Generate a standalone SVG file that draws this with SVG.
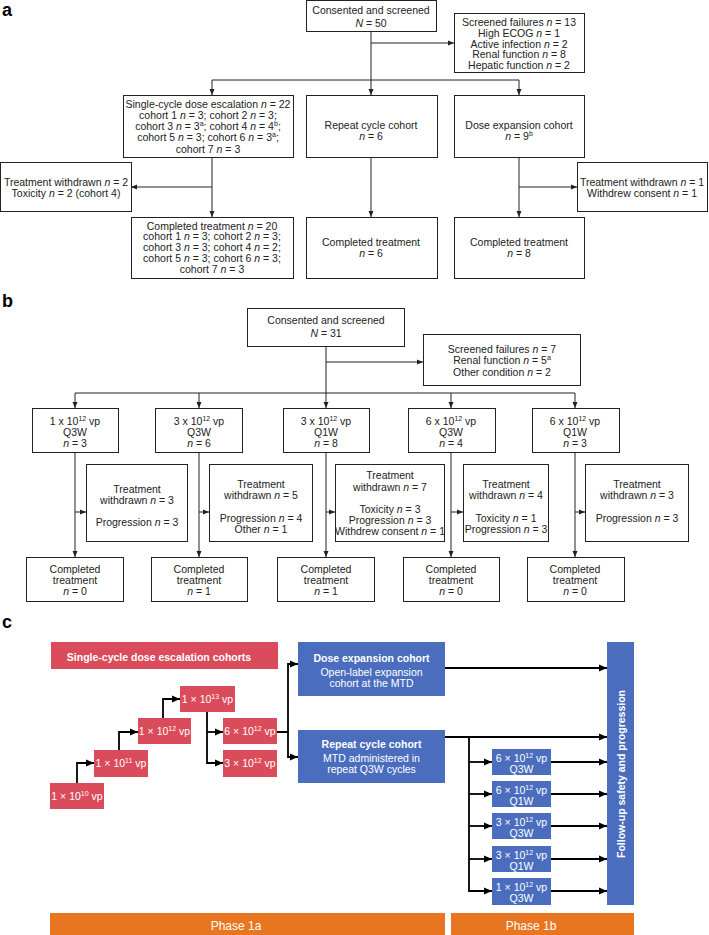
<svg xmlns="http://www.w3.org/2000/svg" width="709" height="935" viewBox="0 0 709 935">
<defs>
<style>
.bx{fill:#fff;stroke:#222;stroke-width:1}
.t{font-family:"Liberation Sans",Arial,sans-serif;font-size:10.5px;fill:#222;text-anchor:middle}
.i{font-style:italic}
.lbl{font-family:"Liberation Sans",Arial,sans-serif;font-size:18px;font-weight:bold;fill:#000}
.ln{fill:none;stroke:#222;stroke-width:1}
.lc{fill:none;stroke:#000;stroke-width:1.8}
.red{fill:#DA4B5B}
.blue{fill:#4A6DBE}
.org{fill:#E8751F}
.w{font-family:"Liberation Sans",Arial,sans-serif;font-size:10.5px;fill:#fff;text-anchor:middle}
.wb{font-weight:bold}
.sup{font-size:7px}
</style>
<marker id="ar" markerUnits="userSpaceOnUse" markerWidth="6" markerHeight="6" refX="6" refY="3" orient="auto"><path d="M0,0.5 L6,3 L0,5.5 z" fill="#222"/></marker>
<marker id="arc" markerUnits="userSpaceOnUse" markerWidth="8" markerHeight="8" refX="8" refY="4" orient="auto"><path d="M0,0.5 L8,4 L0,7.5 z" fill="#000"/></marker>
</defs>
<rect width="709" height="935" fill="#fff"/>

<text class="lbl" x="2" y="16">a</text>
<text class="lbl" x="2" y="307">b</text>
<text class="lbl" x="2" y="628">c</text>

<g id="connectors">
<!-- panel a -->
<path class="ln" d="M371,32 V95" marker-end="url(#ar)"/>
<path class="ln" d="M371,43 H454" marker-end="url(#ar)"/>
<path class="ln" d="M371,80 H212 V95" marker-end="url(#ar)"/>
<path class="ln" d="M371,80 H519 V95" marker-end="url(#ar)"/>
<path class="ln" d="M212,157 V217" marker-end="url(#ar)"/>
<path class="ln" d="M212,187 H131" marker-end="url(#ar)"/>
<path class="ln" d="M371,157 V217" marker-end="url(#ar)"/>
<path class="ln" d="M519,157 V217" marker-end="url(#ar)"/>
<path class="ln" d="M519,187 H577" marker-end="url(#ar)"/>
<!-- panel b -->
<path class="ln" d="M326,346 V408" marker-end="url(#ar)"/>
<path class="ln" d="M326,362 H423" marker-end="url(#ar)"/>
<path class="ln" d="M326,393 H75 V408" marker-end="url(#ar)"/>
<path class="ln" d="M326,393 H575 V408" marker-end="url(#ar)"/>
<path class="ln" d="M199,393 V408" marker-end="url(#ar)"/>
<path class="ln" d="M451,393 V408" marker-end="url(#ar)"/>
<path class="ln" d="M75,452 V557" marker-end="url(#ar)"/>
<path class="ln" d="M75,512 H86" marker-end="url(#ar)"/>
<path class="ln" d="M199,452 V557" marker-end="url(#ar)"/>
<path class="ln" d="M199,512 H209" marker-end="url(#ar)"/>
<path class="ln" d="M326,452 V557" marker-end="url(#ar)"/>
<path class="ln" d="M326,512 H335" marker-end="url(#ar)"/>
<path class="ln" d="M451,452 V557" marker-end="url(#ar)"/>
<path class="ln" d="M451,512 H463" marker-end="url(#ar)"/>
<path class="ln" d="M575,452 V557" marker-end="url(#ar)"/>
<path class="ln" d="M575,512 H585" marker-end="url(#ar)"/>
<!-- panel c -->
<path class="lc" d="M77,783 V763 H94" marker-end="url(#arc)"/>
<path class="lc" d="M119,750 V732 H138" marker-end="url(#arc)"/>
<path class="lc" d="M163,718 V699 H180" marker-end="url(#arc)"/>
<path class="lc" d="M207,712 V763 H223" marker-end="url(#arc)"/>
<path class="lc" d="M207,732 H223" marker-end="url(#arc)"/>
<path class="lc" d="M277,732 H288 V664 H298" marker-end="url(#arc)"/>
<path class="lc" d="M288,732 V757 H298" marker-end="url(#arc)"/>
<path class="lc" d="M445,668 H607" marker-end="url(#arc)"/>
<path class="lc" d="M445,737 H607" marker-end="url(#arc)"/>
<path class="lc" d="M469,737 V891 H492" marker-end="url(#arc)"/>
<path class="lc" d="M469,762 H492" marker-end="url(#arc)"/>
<path class="lc" d="M469,794 H492" marker-end="url(#arc)"/>
<path class="lc" d="M469,826 H492" marker-end="url(#arc)"/>
<path class="lc" d="M469,859 H492" marker-end="url(#arc)"/>
<path class="lc" d="M551,762 H607" marker-end="url(#arc)"/>
<path class="lc" d="M551,794 H607" marker-end="url(#arc)"/>
<path class="lc" d="M551,826 H607" marker-end="url(#arc)"/>
<path class="lc" d="M551,859 H607" marker-end="url(#arc)"/>
<path class="lc" d="M551,891 H607" marker-end="url(#arc)"/>
</g>

<!-- panel a nodes -->
<g id="a-consented">
<rect class="bx" x="306.5" y="0.5" width="130" height="31"/>
<text class="t" x="371" y="13.7">Consented and screened</text>
<text class="t" x="371" y="26.5"><tspan class="i">N</tspan> = 50</text>
</g>
<g id="a-failures">
<rect class="bx" x="454.5" y="13.5" width="130" height="59"/>
<text class="t" x="519" y="25.7">Screened failures <tspan class="i">n</tspan> = 13</text>
<text class="t" x="519" y="36.7">High ECOG <tspan class="i">n</tspan> = 1</text>
<text class="t" x="519" y="47.5">Active infection <tspan class="i">n</tspan> = 2</text>
<text class="t" x="519" y="58.3">Renal function <tspan class="i">n</tspan> = 8</text>
<text class="t" x="519" y="69.2">Hepatic function <tspan class="i">n</tspan> = 2</text>
</g>
<g id="a-single">
<rect class="bx" x="123.5" y="95.5" width="170" height="62"/>
<text class="t" x="208" y="108">Single-cycle dose escalation <tspan class="i">n</tspan> = 22</text>
<text class="t" x="208" y="119.2">cohort 1 <tspan class="i">n</tspan> = 3; cohort 2 <tspan class="i">n</tspan> = 3;</text>
<text class="t" x="208" y="130.3">cohort 3 <tspan class="i">n</tspan> = 3<tspan class="sup" dy="-4">a</tspan><tspan dy="4">; cohort 4 </tspan><tspan class="i">n</tspan> = 4<tspan class="sup" dy="-4">b</tspan><tspan dy="4">;</tspan></text>
<text class="t" x="208" y="141.4">cohort 5 <tspan class="i">n</tspan> = 3; cohort 6 <tspan class="i">n</tspan> = 3<tspan class="sup" dy="-4">a</tspan><tspan dy="4">;</tspan></text>
<text class="t" x="208" y="152.5">cohort 7 <tspan class="i">n</tspan> = 3</text>
</g>
<g id="a-repeat">
<rect class="bx" x="306.5" y="95.5" width="131" height="62"/>
<text class="t" x="371" y="128.7">Repeat cycle cohort</text>
<text class="t" x="371" y="140.2"><tspan class="i">n</tspan> = 6</text>
</g>
<g id="a-dose">
<rect class="bx" x="454.5" y="95.5" width="130" height="62"/>
<text class="t" x="519" y="128.7">Dose expansion cohort</text>
<text class="t" x="519" y="140.2"><tspan class="i">n</tspan> = 9<tspan class="sup" dy="-4">b</tspan></text>
</g>
<g id="a-withdrawn-left">
<rect class="bx" x="0.5" y="162.5" width="131" height="49"/>
<text class="t" x="66" y="185.7">Treatment withdrawn <tspan class="i">n</tspan> = 2</text>
<text class="t" x="66" y="196.7">Toxicity <tspan class="i">n</tspan> = 2 (cohort 4)</text>
</g>
<g id="a-withdrawn-right">
<rect class="bx" x="577.5" y="162.5" width="130" height="49"/>
<text class="t" x="642" y="185.7">Treatment withdrawn <tspan class="i">n</tspan> = 1</text>
<text class="t" x="642" y="196.7">Withdrew consent <tspan class="i">n</tspan> = 1</text>
</g>
<g id="a-completed-left">
<rect class="bx" x="131.5" y="217.5" width="162" height="61"/>
<text class="t" x="212" y="229.5">Completed treatment <tspan class="i">n</tspan> = 20</text>
<text class="t" x="212" y="240.2">cohort 1 <tspan class="i">n</tspan> = 3; cohort 2 <tspan class="i">n</tspan> = 3;</text>
<text class="t" x="212" y="251">cohort 3 <tspan class="i">n</tspan> = 3; cohort 4 <tspan class="i">n</tspan> = 2;</text>
<text class="t" x="212" y="261.7">cohort 5 <tspan class="i">n</tspan> = 3; cohort 6 <tspan class="i">n</tspan> = 3;</text>
<text class="t" x="212" y="272.5">cohort 7 <tspan class="i">n</tspan> = 3</text>
</g>
<g id="a-completed-mid">
<rect class="bx" x="306.5" y="217.5" width="131" height="61"/>
<text class="t" x="371" y="245.5">Completed treatment</text>
<text class="t" x="371" y="256.5"><tspan class="i">n</tspan> = 6</text>
</g>
<g id="a-completed-right">
<rect class="bx" x="454.5" y="217.5" width="130" height="61"/>
<text class="t" x="519" y="245.5">Completed treatment</text>
<text class="t" x="519" y="256.5"><tspan class="i">n</tspan> = 8</text>
</g>

<!-- panel b nodes -->
<g id="b-consented">
<rect class="bx" x="247.5" y="308.5" width="157" height="38"/>
<text class="t" x="326" y="323.5">Consented and screened</text>
<text class="t" x="326" y="336.5"><tspan class="i">N</tspan> = 31</text>
</g>
<g id="b-failures">
<rect class="bx" x="423.5" y="334.5" width="157" height="51"/>
<text class="t" x="502" y="352.5">Screened failures <tspan class="i">n</tspan> = 7</text>
<text class="t" x="502" y="364">Renal function <tspan class="i">n</tspan> = 5<tspan class="sup" dy="-4">a</tspan></text>
<text class="t" x="502" y="375.5">Other condition <tspan class="i">n</tspan> = 2</text>
</g>
<g id="b-dose1">
<rect class="bx" x="32.5" y="408.5" width="86" height="44"/>
<text class="t" x="75" y="424.5">1 x 10<tspan class="sup" dy="-4">12</tspan><tspan dy="4"> vp</tspan></text>
<text class="t" x="75" y="435.5">Q3W</text>
<text class="t" x="75" y="446.5"><tspan class="i">n</tspan> = 3</text>
</g>
<g id="b-dose2">
<rect class="bx" x="155.5" y="408.5" width="87" height="44"/>
<text class="t" x="199" y="424.5">3 x 10<tspan class="sup" dy="-4">12</tspan><tspan dy="4"> vp</tspan></text>
<text class="t" x="199" y="435.5">Q3W</text>
<text class="t" x="199" y="446.5"><tspan class="i">n</tspan> = 6</text>
</g>
<g id="b-dose3">
<rect class="bx" x="283.5" y="408.5" width="86" height="44"/>
<text class="t" x="326" y="424.5">3 x 10<tspan class="sup" dy="-4">12</tspan><tspan dy="4"> vp</tspan></text>
<text class="t" x="326" y="435.5">Q1W</text>
<text class="t" x="326" y="446.5"><tspan class="i">n</tspan> = 8</text>
</g>
<g id="b-dose4">
<rect class="bx" x="408.5" y="408.5" width="87" height="44"/>
<text class="t" x="451" y="424.5">6 x 10<tspan class="sup" dy="-4">12</tspan><tspan dy="4"> vp</tspan></text>
<text class="t" x="451" y="435.5">Q3W</text>
<text class="t" x="451" y="446.5"><tspan class="i">n</tspan> = 4</text>
</g>
<g id="b-dose5">
<rect class="bx" x="532.5" y="408.5" width="87" height="44"/>
<text class="t" x="575" y="424.5">6 x 10<tspan class="sup" dy="-4">12</tspan><tspan dy="4"> vp</tspan></text>
<text class="t" x="575" y="435.5">Q1W</text>
<text class="t" x="575" y="446.5"><tspan class="i">n</tspan> = 3</text>
</g>
<g id="b-withdrawn1">
<rect class="bx" x="86.5" y="464.5" width="101" height="77"/>
<text class="t" x="137" y="492.5">Treatment</text>
<text class="t" x="137" y="503.5">withdrawn <tspan class="i">n</tspan> = 3</text>
<text class="t" x="137" y="525.5">Progression <tspan class="i">n</tspan> = 3</text>
</g>
<g id="b-withdrawn2">
<rect class="bx" x="209.5" y="464.5" width="103" height="77"/>
<text class="t" x="261" y="487.5">Treatment</text>
<text class="t" x="261" y="498.5">withdrawn <tspan class="i">n</tspan> = 5</text>
<text class="t" x="261" y="521.5">Progression <tspan class="i">n</tspan> = 4</text>
<text class="t" x="261" y="532.5">Other <tspan class="i">n</tspan> = 1</text>
</g>
<g id="b-withdrawn3">
<rect class="bx" x="335.5" y="464.5" width="109" height="77"/>
<text class="t" x="390" y="478.5">Treatment</text>
<text class="t" x="390" y="490.5">withdrawn <tspan class="i">n</tspan> = 7</text>
<text class="t" x="390" y="512.5">Toxicity <tspan class="i">n</tspan> = 3</text>
<text class="t" x="390" y="523.5">Progression <tspan class="i">n</tspan> = 3</text>
<text class="t" x="390" y="534.5">Withdrew consent <tspan class="i">n</tspan> = 1</text>
</g>
<g id="b-withdrawn4">
<rect class="bx" x="463.5" y="464.5" width="85" height="77"/>
<text class="t" x="506" y="487.5">Treatment</text>
<text class="t" x="506" y="498.5">withdrawn <tspan class="i">n</tspan> = 4</text>
<text class="t" x="506" y="521.5">Toxicity <tspan class="i">n</tspan> = 1</text>
<text class="t" x="506" y="532.5">Progression <tspan class="i">n</tspan> = 3</text>
</g>
<g id="b-withdrawn5">
<rect class="bx" x="585.5" y="464.5" width="103" height="77"/>
<text class="t" x="637" y="487.5">Treatment</text>
<text class="t" x="637" y="498.5">withdrawn <tspan class="i">n</tspan> = 3</text>
<text class="t" x="637" y="521.5">Progression <tspan class="i">n</tspan> = 3</text>
</g>
<g id="b-completed1">
<rect class="bx" x="26.5" y="557.5" width="97" height="44"/>
<text class="t" x="75" y="572.5">Completed</text>
<text class="t" x="75" y="583.5">treatment</text>
<text class="t" x="75" y="595"><tspan class="i">n</tspan> = 0</text>
</g>
<g id="b-completed2">
<rect class="bx" x="151.5" y="557.5" width="96" height="44"/>
<text class="t" x="199" y="572.5">Completed</text>
<text class="t" x="199" y="583.5">treatment</text>
<text class="t" x="199" y="595"><tspan class="i">n</tspan> = 1</text>
</g>
<g id="b-completed3">
<rect class="bx" x="277.5" y="557.5" width="97" height="44"/>
<text class="t" x="326" y="572.5">Completed</text>
<text class="t" x="326" y="583.5">treatment</text>
<text class="t" x="326" y="595"><tspan class="i">n</tspan> = 1</text>
</g>
<g id="b-completed4">
<rect class="bx" x="403.5" y="557.5" width="96" height="44"/>
<text class="t" x="451" y="572.5">Completed</text>
<text class="t" x="451" y="583.5">treatment</text>
<text class="t" x="451" y="595"><tspan class="i">n</tspan> = 0</text>
</g>
<g id="b-completed5">
<rect class="bx" x="527.5" y="557.5" width="97" height="44"/>
<text class="t" x="575" y="572.5">Completed</text>
<text class="t" x="575" y="583.5">treatment</text>
<text class="t" x="575" y="595"><tspan class="i">n</tspan> = 0</text>
</g>

<!-- panel c nodes -->
<g id="c-escalation-title">
<rect class="red" x="51" y="642" width="227" height="27"/>
<text class="w wb" x="159" y="660.5">Single-cycle dose escalation cohorts</text>
</g>
<g id="c-1e10">
<rect class="red" x="50" y="783" width="54" height="26"/>
<text class="w" x="77" y="799.7">1 × 10<tspan class="sup" dy="-4">10</tspan><tspan dy="4"> vp</tspan></text>
</g>
<g id="c-1e11">
<rect class="red" x="94" y="750" width="54" height="27"/>
<text class="w" x="121" y="767">1 × 10<tspan class="sup" dy="-4">11</tspan><tspan dy="4"> vp</tspan></text>
</g>
<g id="c-1e12">
<rect class="red" x="138" y="718" width="53" height="26"/>
<text class="w" x="164.5" y="735">1 × 10<tspan class="sup" dy="-4">12</tspan><tspan dy="4"> vp</tspan></text>
</g>
<g id="c-1e13">
<rect class="red" x="180" y="686" width="55" height="26"/>
<text class="w" x="207.5" y="703">1 × 10<tspan class="sup" dy="-4">13</tspan><tspan dy="4"> vp</tspan></text>
</g>
<g id="c-6e12">
<rect class="red" x="223" y="718" width="54" height="26"/>
<text class="w" x="250" y="735">6 × 10<tspan class="sup" dy="-4">12</tspan><tspan dy="4"> vp</tspan></text>
</g>
<g id="c-3e12">
<rect class="red" x="223" y="750" width="54" height="27"/>
<text class="w" x="250" y="767">3 × 10<tspan class="sup" dy="-4">12</tspan><tspan dy="4"> vp</tspan></text>
</g>
<g id="c-dose-expansion">
<rect class="blue" x="298" y="642" width="147" height="54"/>
<text class="w wb" x="371.5" y="661.7">Dose expansion cohort</text>
<text class="w" x="371.5" y="675.7">Open-label expansion</text>
<text class="w" x="371.5" y="686.7">cohort at the MTD</text>
</g>
<g id="c-repeat">
<rect class="blue" x="298" y="730" width="147" height="53"/>
<text class="w wb" x="371.5" y="747.7">Repeat cycle cohort</text>
<text class="w" x="371.5" y="761.7">MTD administered in</text>
<text class="w" x="371.5" y="772.7">repeat Q3W cycles</text>
</g>
<g id="c-r1">
<rect class="blue" x="492" y="749" width="59" height="26"/>
<text class="w" x="521.5" y="761.7">6 × 10<tspan class="sup" dy="-4">12</tspan><tspan dy="4"> vp</tspan></text>
<text class="w" x="521.5" y="772.7">Q3W</text>
</g>
<g id="c-r2">
<rect class="blue" x="492" y="781" width="59" height="26"/>
<text class="w" x="521.5" y="793.7">6 × 10<tspan class="sup" dy="-4">12</tspan><tspan dy="4"> vp</tspan></text>
<text class="w" x="521.5" y="804.7">Q1W</text>
</g>
<g id="c-r3">
<rect class="blue" x="492" y="813" width="59" height="26"/>
<text class="w" x="521.5" y="825.7">3 × 10<tspan class="sup" dy="-4">12</tspan><tspan dy="4"> vp</tspan></text>
<text class="w" x="521.5" y="836.7">Q3W</text>
</g>
<g id="c-r4">
<rect class="blue" x="492" y="846" width="59" height="26"/>
<text class="w" x="521.5" y="858.7">3 × 10<tspan class="sup" dy="-4">12</tspan><tspan dy="4"> vp</tspan></text>
<text class="w" x="521.5" y="869.7">Q1W</text>
</g>
<g id="c-r5">
<rect class="blue" x="492" y="878" width="59" height="27"/>
<text class="w" x="521.5" y="890.7">1 × 10<tspan class="sup" dy="-4">12</tspan><tspan dy="4"> vp</tspan></text>
<text class="w" x="521.5" y="901.7">Q3W</text>
</g>
<g id="c-followup">
<rect class="blue" x="607" y="642" width="27" height="263"/>
<text class="w wb" transform="translate(624.5,774) rotate(-90)" x="0" y="0">Follow-up safety and progression</text>
</g>
<g id="c-phase1a">
<rect class="org" x="50" y="913" width="395" height="22"/>
<text class="w" x="236" y="930" style="font-size:12px">Phase 1a</text>
</g>
<g id="c-phase1b">
<rect class="org" x="451" y="913" width="183" height="22"/>
<text class="w" x="531" y="930" style="font-size:12px">Phase 1b</text>
</g>
</svg>
